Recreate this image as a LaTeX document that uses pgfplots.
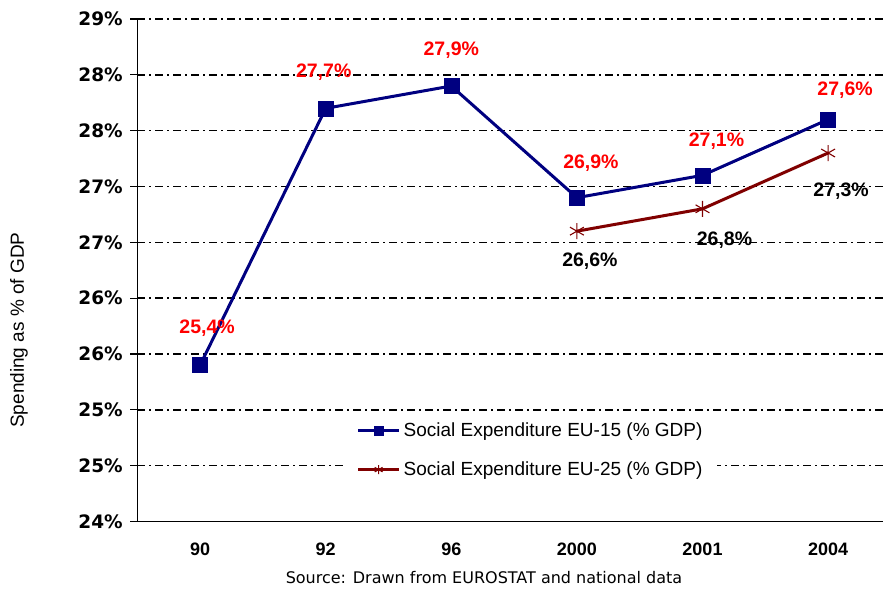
\documentclass[border=0pt]{standalone}
\usepackage{fontspec}
\setmainfont{Liberation Sans}
\newfontfamily\dv{DejaVu Sans}
\usepackage{pgfplots}
\pgfplotsset{compat=1.18}
\definecolor{navyc}{RGB}{0,0,128}
\definecolor{maroonc}{RGB}{128,0,0}
\definecolor{lblred}{RGB}{255,0,0}
\begin{document}
\begin{tikzpicture}
\useasboundingbox (-137.3pt,-73.5pt) rectangle (745.7pt,521.5pt);
\begin{axis}[
  at={(0pt,0pt)}, anchor=south west,
  scale only axis, width=753.6pt, height=502.5pt,
  xmin=-0.5, xmax=5.5, ymin=24, ymax=28.5,
  axis lines*=left,
  axis line style={black, line width=1.3pt},
  xtick={0,...,5},
  xticklabels={90,92,96,2000,2001,2004},
  xtick style={draw=none},
  xticklabel style={font=\bfseries\fontsize{18}{20}\selectfont, yshift=-11pt},
  ytick={24,24.5,...,28.5},
  yticklabels={24\%,25\%,25\%,26\%,26\%,27\%,27\%,28\%,28\%,29\%},
  yticklabel style={font=\dv\bfseries\fontsize{18.5}{20}\selectfont, xshift=-4pt},
  ytick style={black, line width=1.3pt},
  tick align=outside,
  major tick length=7pt,
  ymajorgrids,
  major grid style={black, line width=1.5pt, dash pattern=on 8pt off 4pt on 2pt off 4pt},
  ylabel={Spending as \% of GDP},
  every axis y label/.style={at={(axis description cs:-0.157,0.381)}, rotate=90, anchor=center, font=\fontsize{19}{22}\selectfont},
  xlabel={Source: Drawn from EUROSTAT and national data},
  every axis x label/.style={at={(axis description cs:0.46,-0.1124)}, anchor=center, font=\dv\fontsize{16}{19}\selectfont},
  legend image code/.code={\draw[mark repeat=2,mark phase=2,#1,mark size=4.5pt] plot coordinates {(0pt,0pt) (20.5pt,0pt) (41pt,0pt)};},
  legend cell align=left,
  legend style={at={(axis description cs:0.5225,0.1423)}, anchor=center, draw=none, fill=white,
    font=\fontsize{19}{22}\selectfont, row sep=18pt, inner xsep=12pt, inner ysep=8pt,
    nodes={inner sep=3pt}},
]
\addplot[navyc, line width=3pt, mark=square*, mark size=7.5pt, mark options={solid, line width=0.5pt}]
  coordinates {(0,25.4) (1,27.7) (2,27.9) (3,26.9) (4,27.1) (5,27.6)};
\addlegendentry{Social Expenditure EU-15 (\% GDP)}
\addplot[maroonc, line width=3pt, mark=asterisk, mark size=8pt, mark options={solid, line width=1.1pt}]
  coordinates {(3,26.6) (4,26.8) (5,27.3)};
\addlegendentry{Social Expenditure EU-25 (\% GDP)}
\begin{scope}[every node/.style={font=\bfseries\fontsize{19.5}{22}\selectfont}]
\node[lblred, xshift=7pt, yshift=37pt] at (axis cs:0,25.4) {25,4\%};
\node[lblred, xshift=-2pt, yshift=36pt] at (axis cs:1,27.7) {27,7\%};
\node[lblred, yshift=36pt] at (axis cs:2,27.9) {27,9\%};
\node[lblred, xshift=14pt, yshift=34pt] at (axis cs:3,26.9) {26,9\%};
\node[lblred, xshift=14pt, yshift=34pt] at (axis cs:4,27.1) {27,1\%};
\node[lblred, xshift=17pt, yshift=29pt] at (axis cs:5,27.6) {27,6\%};
\node[black, xshift=13pt, yshift=-30pt] at (axis cs:3,26.6) {26,6\%};
\node[black, xshift=22pt, yshift=-31pt] at (axis cs:4,26.8) {26,8\%};
\node[black, xshift=13pt, yshift=-38pt] at (axis cs:5,27.3) {27,3\%};
\end{scope}
\end{axis}
\end{tikzpicture}
\end{document}
